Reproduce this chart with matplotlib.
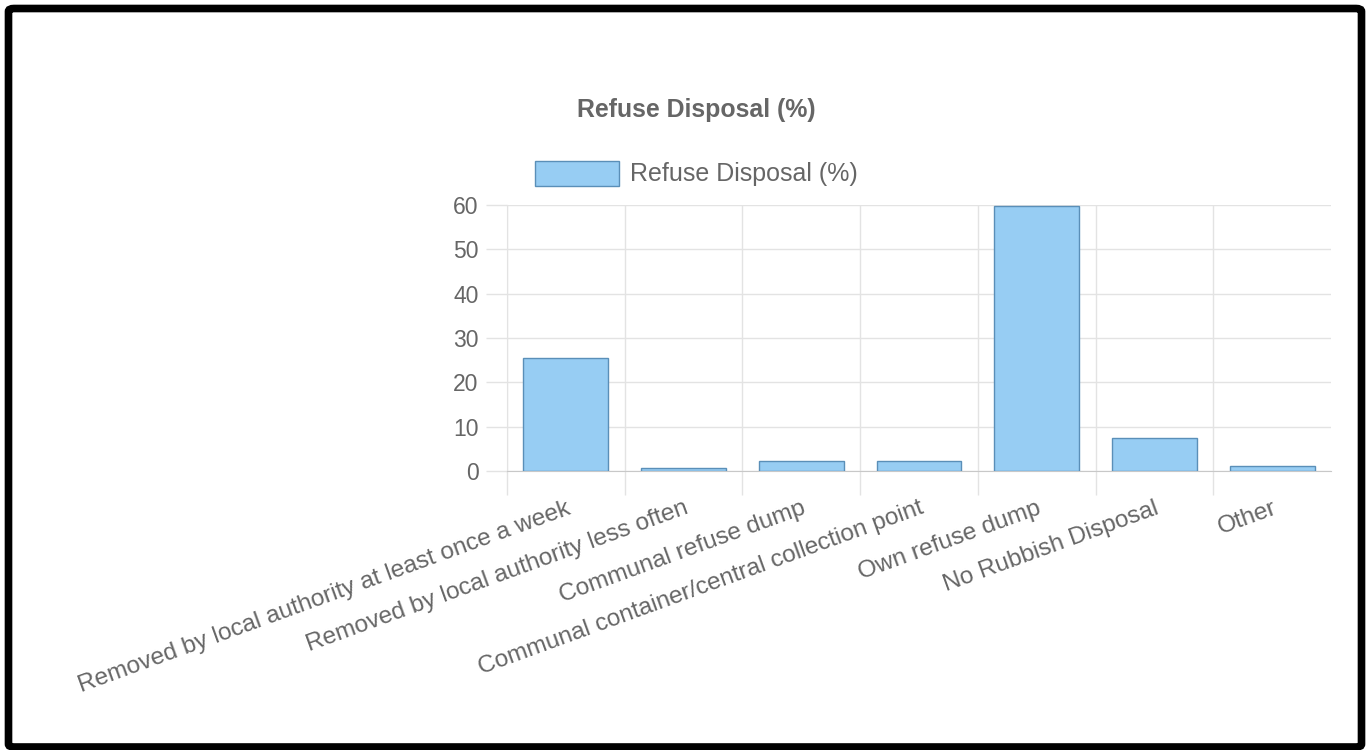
import matplotlib.pyplot as plt
import matplotlib.patches as mpatches
import numpy as np

plt.rcParams['font.family'] = ['Liberation Sans', 'DejaVu Sans']

categories = [
    "Removed by local authority at least once a week",
    "Removed by local authority less often",
    "Communal refuse dump",
    "Communal container/central collection point",
    "Own refuse dump",
    "No Rubbish Disposal",
    "Other",
]
values = [25.5, 0.6, 2.2, 2.2, 59.7, 7.4, 1.1]
series_name = "Refuse Disposal (%)"
y_ticks = [0, 10, 20, 30, 40, 50, 60]

W, H = 1366, 750
bar_fill = '#97CDF3'
bar_edge = '#5A8FB8'
grid_col = '#E3E3E3'
text_col = '#666666'

fig = plt.figure(figsize=(W / 100, H / 100), dpi=100, facecolor='white')

# axes placed in pixel terms of the reference
left, right, top, bottom = 507, 1331, 205, 471
ax = fig.add_axes([left / W, 1 - bottom / H, (right - left) / W, (bottom - top) / H])

x = np.arange(len(categories))
ax.bar(x, values, width=0.72, color=bar_fill, edgecolor=bar_edge, linewidth=1, zorder=3)

ax.set_xlim(-0.5, len(categories) - 0.5)
ax.set_ylim(0, 60)

# y axis
ax.set_yticks(y_ticks)
ax.set_yticklabels([str(t) for t in y_ticks])
ax.tick_params(axis='y', length=15, width=1, color=grid_col, pad=5.5,
               labelsize=16.5, labelcolor=text_col)
ax.yaxis.grid(True, color=grid_col, linewidth=1, zorder=0)

# x axis: labels at centres, grid lines on category boundaries
ax.set_xticks(x)
ax.set_xticklabels(categories, rotation=20, ha='right', va='top',
                   rotation_mode='anchor')
ax.tick_params(axis='x', which='major', length=0, pad=19,
               labelsize=17.6, labelcolor=text_col)
ax.set_xticks(np.arange(len(categories)) - 0.5, minor=True)
ax.tick_params(axis='x', which='minor', length=17, width=1, color=grid_col)
ax.xaxis.grid(True, which='minor', color=grid_col, linewidth=1, zorder=0)

for side in ['top', 'right']:
    ax.spines[side].set_visible(False)
ax.spines['left'].set_color(grid_col)
ax.spines['bottom'].set_color('#C8C8C8')

# title and legend
fig.text(696 / W, 1 - 110 / H, series_name, ha='center', va='center',
         fontsize=17.9, fontweight='bold', color=text_col)
fig.add_artist(mpatches.Rectangle((535 / W, 1 - 186 / H), 84 / W, 25 / H,
                                  transform=fig.transFigure, facecolor=bar_fill,
                                  edgecolor=bar_edge, linewidth=1))
fig.text(630 / W, 1 - 174 / H, series_name, ha='left', va='center',
         fontsize=18, color=text_col)

# black frame round the screenshot
fig.add_artist(mpatches.FancyBboxPatch((8.5 / W, 1 - 747 / H), 1353 / W, 738.5 / H,
                                       boxstyle='round,pad=0,rounding_size=0.004',
                                       transform=fig.transFigure, fill=False,
                                       edgecolor='black', linewidth=5.5))

fig.savefig('out.png', dpi=100, facecolor='white')
